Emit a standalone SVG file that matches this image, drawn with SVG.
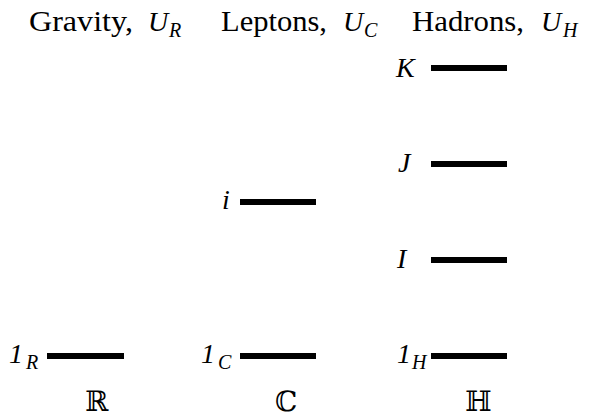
<svg xmlns="http://www.w3.org/2000/svg" width="589" height="419" viewBox="0 0 589 419">
<style>
text{font-family:"Liberation Serif","DejaVu Serif",serif;fill:#000}
.t{font-size:29px}
.m{font-style:italic;font-size:28px}
.s{font-style:italic;font-size:20px}
.bb{font-family:"DejaVu Serif","DejaVu Sans",serif;font-size:28px}
.bar{fill:#000}
</style>
<rect width="589" height="419" fill="#fff"/>
<g id="titles">
<text class="t" x="29" y="31" textLength="104" lengthAdjust="spacingAndGlyphs">Gravity,</text>
<text class="m" x="148" y="31">U</text><text class="s" x="169" y="37">R</text>
<text class="t" x="221" y="31" textLength="106" lengthAdjust="spacingAndGlyphs">Leptons,</text>
<text class="m" x="343" y="31">U</text><text class="s" x="364" y="37">C</text>
<text class="t" x="412" y="31" textLength="112" lengthAdjust="spacingAndGlyphs">Hadrons,</text>
<text class="m" x="541" y="31">U</text><text class="s" x="563" y="37">H</text>
</g>
<g id="connectors"></g>
<g id="node-1R"><rect class="bar" x="47" y="353" width="77" height="6"/><text class="m" x="9" y="363">1</text><text class="s" x="26" y="369">R</text></g>
<g id="node-1C"><rect class="bar" x="240" y="353" width="76" height="6"/><text class="m" x="201" y="363">1</text><text class="s" x="218" y="369">C</text></g>
<g id="node-1H"><rect class="bar" x="431" y="353" width="76" height="6"/><text class="m" x="397" y="363">1</text><text class="s" x="412" y="369">H</text></g>
<g id="node-i"><rect class="bar" x="240" y="199" width="76" height="6"/><text class="m" x="222" y="209">i</text></g>
<g id="node-K"><rect class="bar" x="431" y="65" width="76" height="6"/><text class="m" x="396" y="77">K</text></g>
<g id="node-J"><rect class="bar" x="431" y="161" width="76" height="6"/><text class="m" x="398" y="172">J</text></g>
<g id="node-I"><rect class="bar" x="431" y="257" width="76" height="6"/><text class="m" x="397" y="268">I</text></g>
<g id="sets">
<text class="bb" x="85" y="411">ℝ</text>
<text class="bb" x="275" y="411">ℂ</text>
<text class="bb" x="465" y="411">ℍ</text>
</g>
</svg>
